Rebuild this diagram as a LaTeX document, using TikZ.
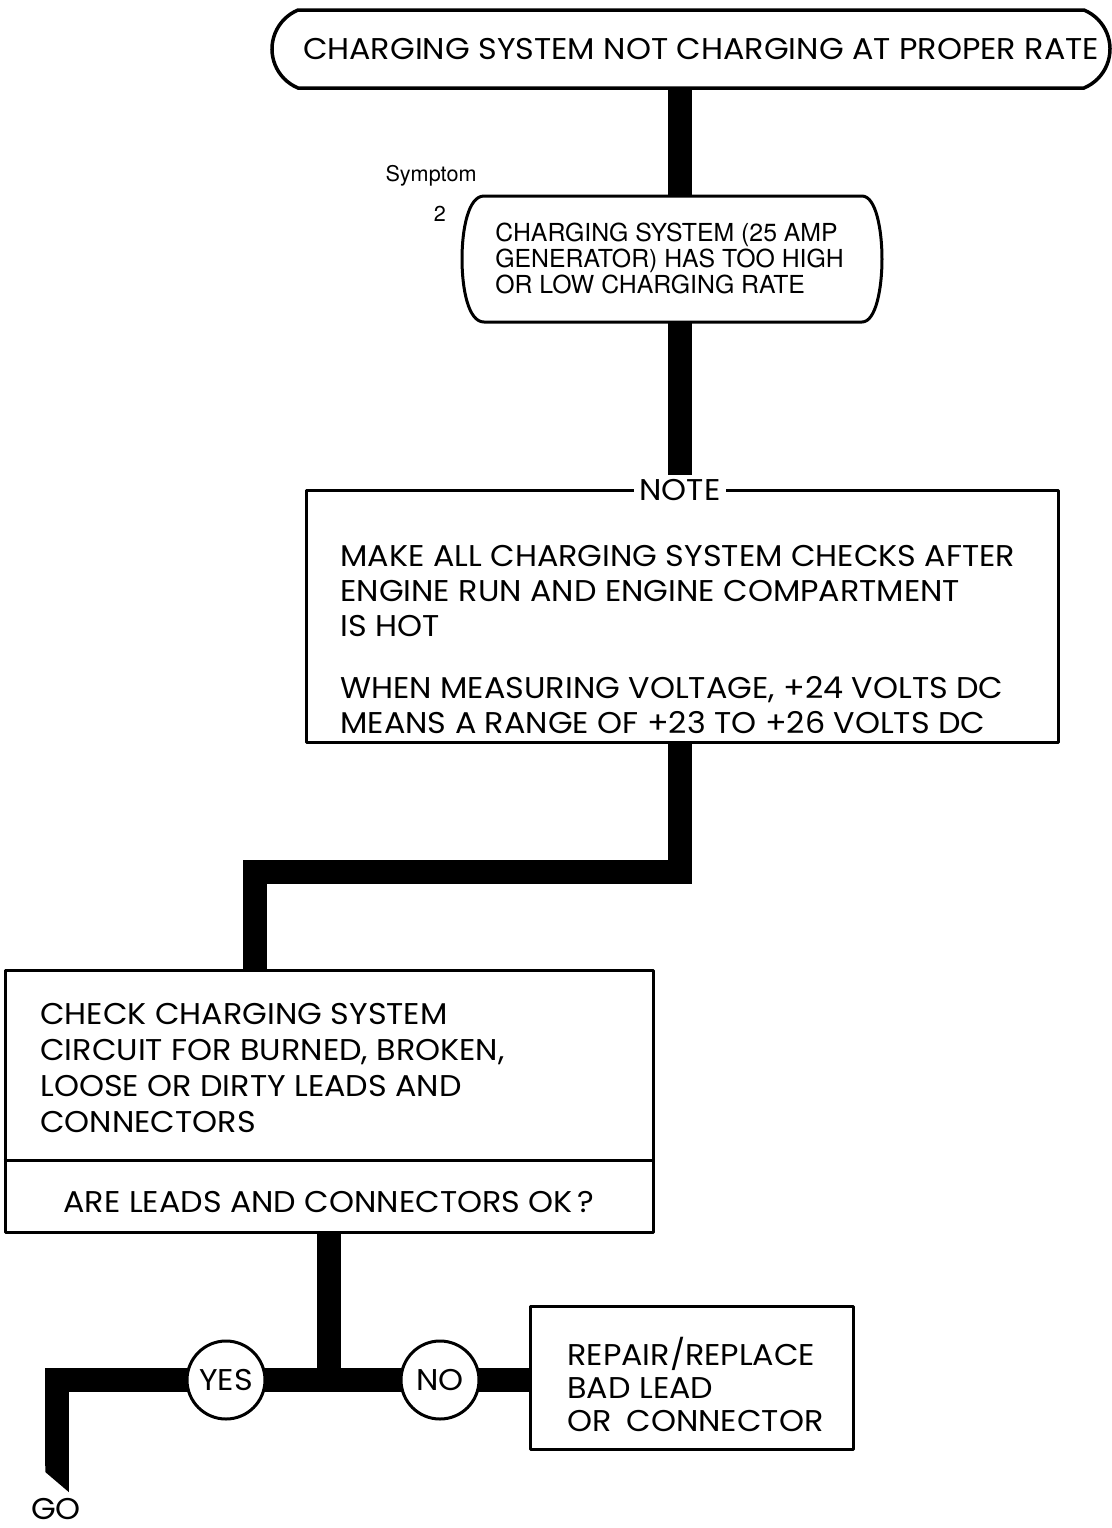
\documentclass[tikz,border=0pt]{standalone}
\usepackage{fontspec}
\usetikzlibrary{shapes.misc,backgrounds}
\newfontfamily\futfont[FakeStretch=1.06]{Poppins}
\newfontfamily\helvfont{TeX Gyre Heros}
\tikzset{
  boxline/.style={line width=1.5pt, line join=round},
  flow/.style={line width=11.75pt, line join=miter, line cap=butt},
  maintext/.style={font={\futfont\fontsize{15pt}{#1}\selectfont}, inner sep=0pt, align=left},
  maintext/.default=17.5pt,
  symtext/.style={font={\helvfont\fontsize{12.4pt}{13pt}\selectfont}, inner sep=0pt, align=left},
  labeltext/.style={font={\helvfont\fontsize{10.8pt}{12pt}\selectfont}, inner sep=0pt},
  terminal/.style={draw, rounded rectangle, rounded rectangle arc length=135, line width=1.75pt, inner sep=0pt},
  plainbox/.style={draw, boxline, inner sep=0pt},
  circ/.style={circle, draw, line width=1.5pt, fill=white, minimum size=39pt, inner sep=0pt,
     font={\futfont\fontsize{15pt}{17pt}\selectfont}},
}
\begin{document}
\begin{tikzpicture}[x=0.5pt,y=-0.5pt]
\useasboundingbox (0,0) rectangle (1112,1528);
\coordinate (X) at (680,0);

% top terminal
\node[terminal, minimum width=419pt, minimum height=39pt] (top) at (691,49) {};
\node[maintext] (toptext) at (701,49) {CHARGING SYSTEM NOT CHARGING AT PROPER RATE};

% symptom box
\node[inner sep=0pt, minimum width=210pt, minimum height=63pt] (sym) at (672,259) {};
\draw[boxline] (484,196) -- (862,196)
  .. controls (876,196) and (882,230) .. (882,259)
  .. controls (882,288) and (876,322) .. (862,322) -- (484,322)
  .. controls (468,322) and (462,288) .. (462,259)
  .. controls (462,230) and (468,196) .. (484,196) -- cycle;
\node[symtext, anchor=north west] (symtxt) at (495,223) {CHARGING SYSTEM (25 AMP\\GENERATOR) HAS TOO HIGH\\OR LOW CHARGING RATE};
\node[labeltext] (symlbl) at (431,176) {Symptom};
\node[labeltext] (symnum) at (440,214) {2};

% note box
\node[plainbox, minimum width=376pt, minimum height=126pt] (note) at (682,616) {};
\node[maintext, fill=white, inner xsep=3pt, inner ysep=1pt] (notelbl) at (680,490) {NOTE};
\node[maintext, anchor=north west] (p1) at (340,545) {MAKE ALL CHARGING SYSTEM CHECKS AFTER\\ENGINE RUN AND ENGINE COMPARTMENT\\IS HOT};
\node[maintext, anchor=north west] (p2) at (340,676) {WHEN MEASURING VOLTAGE, +24 VOLTS DC\\MEANS A RANGE OF +23 TO +26 VOLTS DC};

% check box
\node[plainbox, minimum width=324pt, minimum height=131pt] (check) at (329,1101) {};
\coordinate (div) at (0,1160);
\draw[boxline] (check.west |- div) -- (check.east |- div);
\node[maintext=18pt, anchor=north west] (ctext) at (40,1003) {CHECK CHARGING SYSTEM\\CIRCUIT FOR BURNED, BROKEN,\\LOOSE OR DIRTY LEADS AND\\CONNECTORS};
\node[maintext] (q) at (329,1202) {ARE LEADS AND CONNECTORS OK\,?};

% decision
\coordinate (J) at (329,1380);
\node[circ] (yes) at (226,1380) {YES};
\node[circ] (no) at (440,1380) {NO};
\node[plainbox, minimum width=161.5pt, minimum height=71.5pt] (repair) at (691.5,1378) {};
\node[maintext=16.5pt, anchor=north west] (rtext) at (567,1337) {REPAIR/REPLACE\\BAD LEAD\\OR\enspace CONNECTOR};
\coordinate (corner) at (57,1380);
\coordinate (goend) at (57,1466);
\node[maintext] (go) at (56,1509) {GO};

% connectors
\begin{pgfonlayer}{background}
\draw[flow] (top.south -| X) -- (sym.north -| X);
\draw[flow, shorten >=1pt] (sym.south -| X) -- (notelbl.north -| X);
\coordinate (bendA) at (680,872);
\coordinate (bendB) at (255,872);
\draw[flow] (note.south -| X) -- (bendA) -- (bendB) -- (check.north -| bendB);
\draw[flow] (check.south -| J) -- (J);
\draw[flow] (repair.west |- J) -- (corner) -- (goend);
\fill (45.25,1465) -- (68.75,1465) -- (68.75,1492) -- (45.25,1472) -- cycle;
\end{pgfonlayer}
\end{tikzpicture}
\end{document}
